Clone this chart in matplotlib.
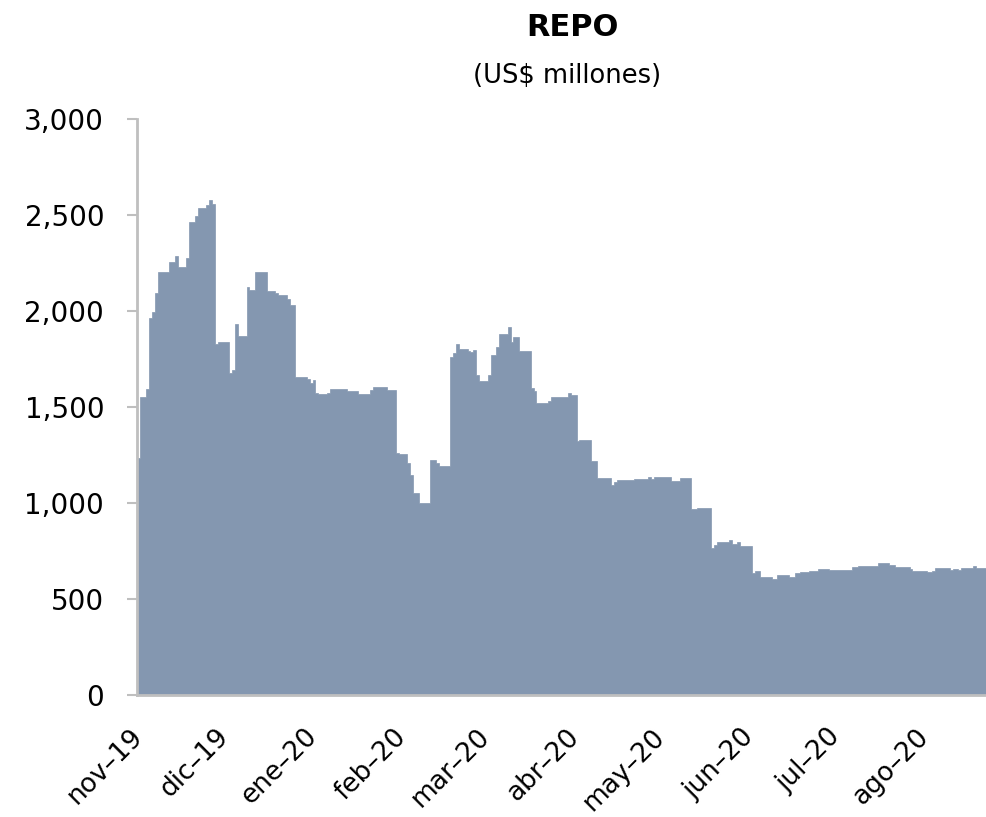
import matplotlib
matplotlib.use("Agg")
import matplotlib.pyplot as plt
import matplotlib.transforms as mtransforms
import matplotlib.dates as mdates
import numpy as np
import pandas as pd

# ---- data: step changes (date, US$ millones) ----
change_dates = [
    "2019-11-01", "2019-11-02", "2019-11-04", "2019-11-05", "2019-11-06", "2019-11-07",
    "2019-11-08", "2019-11-12", "2019-11-14", "2019-11-15", "2019-11-18", "2019-11-19",
    "2019-11-21", "2019-11-22", "2019-11-25", "2019-11-26", "2019-11-27", "2019-11-28",
    "2019-11-29", "2019-12-03", "2019-12-04", "2019-12-05", "2019-12-06", "2019-12-09",
    "2019-12-10", "2019-12-12", "2019-12-16", "2019-12-19", "2019-12-20", "2019-12-23",
    "2019-12-24", "2019-12-26", "2019-12-30", "2019-12-31", "2020-01-01", "2020-01-02",
    "2020-01-03", "2020-01-06", "2020-01-07", "2020-01-13", "2020-01-17", "2020-01-21",
    "2020-01-22", "2020-01-27", "2020-01-30", "2020-01-31", "2020-02-03", "2020-02-04",
    "2020-02-05", "2020-02-07", "2020-02-11", "2020-02-13", "2020-02-14", "2020-02-18",
    "2020-02-19", "2020-02-20", "2020-02-21", "2020-02-24", "2020-02-25", "2020-02-26",
    "2020-02-27", "2020-02-28", "2020-03-02", "2020-03-03", "2020-03-05", "2020-03-06",
    "2020-03-09", "2020-03-10", "2020-03-11", "2020-03-13", "2020-03-17", "2020-03-18",
    "2020-03-19", "2020-03-23", "2020-03-24", "2020-03-30", "2020-03-31", "2020-04-02",
    "2020-04-03", "2020-04-07", "2020-04-09", "2020-04-14", "2020-04-15", "2020-04-16",
    "2020-04-22", "2020-04-27", "2020-04-28", "2020-04-29", "2020-05-05", "2020-05-08",
    "2020-05-12", "2020-05-14", "2020-05-19", "2020-05-20", "2020-05-21", "2020-05-25",
    "2020-05-26", "2020-05-28", "2020-05-29", "2020-06-02", "2020-06-03", "2020-06-05",
    "2020-06-09", "2020-06-11", "2020-06-15", "2020-06-17", "2020-06-19", "2020-06-22",
    "2020-06-25", "2020-06-29", "2020-07-07", "2020-07-09", "2020-07-16", "2020-07-20",
    "2020-07-22", "2020-07-27", "2020-07-28", "2020-08-02", "2020-08-04", "2020-08-05",
    "2020-08-10", "2020-08-11", "2020-08-13", "2020-08-14", "2020-08-18", "2020-08-19",
]
repo_levels = [
    1234, 1554, 1593, 1965, 1996, 2092,
    2201, 2253, 2286, 2227, 2274, 2462,
    2495, 2535, 2552, 2578, 2557, 1828,
    1840, 1679, 1692, 1932, 1870, 2127,
    2110, 2205, 2106, 2096, 2083, 2061,
    2031, 1655, 1646, 1627, 1641, 1571,
    1566, 1575, 1592, 1585, 1566, 1589,
    1606, 1589, 1262, 1255, 1207, 1146,
    1054, 998, 1224, 1207, 1194, 1759,
    1783, 1826, 1800, 1793, 1788, 1797,
    1667, 1635, 1667, 1771, 1814, 1878,
    1918, 1840, 1864, 1793, 1597, 1585,
    1519, 1531, 1554, 1571, 1562, 1323,
    1328, 1219, 1128, 1094, 1111, 1120,
    1123, 1135, 1127, 1137, 1115, 1132,
    967, 972, 767, 781, 798, 809,
    786, 798, 778, 634, 644, 613,
    604, 625, 616, 637, 642, 648,
    658, 651, 665, 674, 686, 677,
    665, 655, 648, 639, 648, 660,
    651, 658, 651, 663, 672, 663,
]
end_date = "2020-08-23"

tick_dates = ["2019-11-01", "2019-12-01", "2020-01-01", "2020-02-01", "2020-03-01",
              "2020-04-01", "2020-05-01", "2020-06-01", "2020-07-01", "2020-08-01"]
tick_labels = ["nov–19", "dic–19", "ene–20", "feb–20", "mar–20",
               "abr–20", "may–20", "jun–20", "jul–20", "ago–20"]
y_ticks = [0, 500, 1000, 1500, 2000, 2500, 3000]

title = "REPO"
subtitle = "(US$ millones)"

# ---- plot ----
plt.rcParams['font.family'] = ['DejaVu Sans']
plt.rcParams['path.simplify'] = False
W, H = 987, 817
fig = plt.figure(figsize=(W / 100, H / 100), dpi=100)
ax = fig.add_axes([137.5 / W, (H - 695) / H, (W - 137.5) / W, 576 / H])

fill_color = "#8497B0"
edges = mdates.date2num(pd.to_datetime(change_dates + [end_date]).to_pydatetime())
levels = np.array(repo_levels, dtype=float)
# closed step outline: along the top, then back along the baseline
px = np.concatenate([np.repeat(edges, 2)[1:-1], [edges[-1], edges[0]]])
py = np.concatenate([np.repeat(levels, 2), [0.0, 0.0]])
ax.fill(px, py, facecolor=fill_color, edgecolor=fill_color, linewidth=0.5,
        joinstyle="miter", zorder=2)
ax.xaxis_date()

ax.set_xlim(edges[0], edges[-1])
ax.set_ylim(0, 3000)

ax.set_yticks(y_ticks)
ax.set_yticklabels([f"{v:,}" for v in y_ticks], fontsize=20)
ax.tick_params(axis="y", length=7, width=1.5, color="#BFBFBF", pad=17)

ax.set_xticks(mdates.date2num(pd.to_datetime(tick_dates).to_pydatetime()))
ax.set_xticklabels(tick_labels, fontsize=19, rotation=45, ha="right", va="top",
                   rotation_mode="anchor")
ax.tick_params(axis="x", length=0, pad=22)
offset = mtransforms.ScaledTranslation(-8 / 100, 2 / 100, fig.dpi_scale_trans)
for lbl in ax.get_xticklabels():
    lbl.set_transform(lbl.get_transform() + offset)

for s in ["top", "right"]:
    ax.spines[s].set_visible(False)
ax.spines["left"].set_color("#BFBFBF")
ax.spines["left"].set_linewidth(2)
ax.spines["bottom"].set_color("#BFBFBF")
ax.spines["bottom"].set_linewidth(2)

fig.text(572 / W, 1 - 28 / H, title, ha="center", va="center", fontsize=22,
         fontweight="bold")
fig.text(567 / W, 1 - 76 / H, subtitle, ha="center", va="center", fontsize=18.5)

fig.savefig("out.png", dpi=100)
